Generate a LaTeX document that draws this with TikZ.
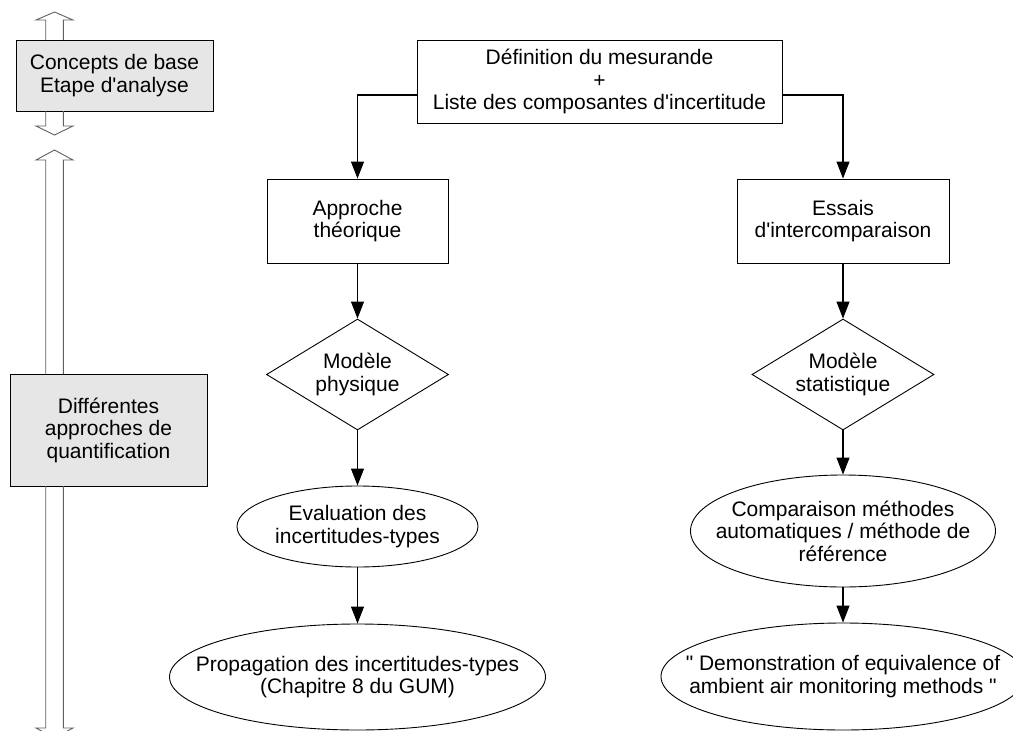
\documentclass[tikz,border=0pt]{standalone}
\usepackage{fontspec}
\setmainfont{Liberation Sans}[Ligatures=TeXOff]
\usetikzlibrary{shapes.geometric,arrows.meta}
\definecolor{boxgray}{HTML}{E6E6E6}
\definecolor{outlinegray}{HTML}{606060}
\begin{document}
\begin{tikzpicture}[x=1pt,y=-1pt,
  every node/.style={font=\fontsize{21}{22.5}\selectfont, align=center},
  graybox/.style={draw=black, line width=0.9pt, fill=boxgray, rectangle, inner sep=0pt},
  plainbox/.style={draw=black, line width=0.9pt, rectangle, inner sep=0pt},
  diam/.style={draw=black, line width=0.9pt, diamond, aspect=1.64, inner sep=0pt},
  ell/.style={draw=black, line width=0.9pt, ellipse, inner sep=0pt},
  arr/.style={line width=1.1pt, -{Triangle[length=17pt,width=13pt]}},
  blockarrow/.style={draw=outlinegray, line width=0.9pt, line join=miter}
]
\useasboundingbox (0,0) rectangle (1013,731);

% left gray boxes
\node[graybox, minimum width=197, minimum height=71] (conc) at (114.5,75.5) {Concepts de base\\Etape d'analyse};
\node[graybox, minimum width=197, minimum height=112] (diff) at (108.5,430) {Différentes\\approches de\\quantification};

% block arrows
\draw[blockarrow] (45.7,40) -- (45.7,20) -- (36,20) -- (54.5,12) -- (73,20) -- (63.3,20) -- (63.3,40);
\draw[blockarrow] (45.7,111) -- (45.7,126) -- (36,126) -- (54.5,135) -- (73,126) -- (63.3,126) -- (63.3,111);
\draw[blockarrow] (45.7,374) -- (45.7,160) -- (36,160) -- (54.5,150) -- (73,160) -- (63.3,160) -- (63.3,374);
\draw[blockarrow] (45.7,486) -- (45.7,728) -- (36,728) -- (54.5,738) -- (73,728) -- (63.3,728) -- (63.3,486);

% flowchart
\node[plainbox, minimum width=365, minimum height=83] (def) at (599.5,81.5) {Définition du mesurande\\+\\Liste des composantes d'incertitude};
\node[plainbox, minimum width=181, minimum height=84] (app) at (357.5,221) {Approche\\théorique};
\node[plainbox, minimum width=212, minimum height=84] (ess) at (843,221) {Essais\\d'intercomparaison};
\node[diam, minimum width=182, minimum height=111] (mph) at (357.5,374.5) {Modèle\\physique};
\node[diam, minimum width=182, minimum height=111] (mst) at (843,374.5) {Modèle\\statistique};
\node[ell, minimum width=241, minimum height=81, label={[align=center]center:{Evaluation des\\incertitudes-types}}] (eval) at (357.5,526.5) {};
\node[ell, minimum width=305, minimum height=112, label={[align=center]center:{Comparaison méthodes\\automatiques / méthode de\\référence}}] (comp) at (843,531) {};
\node[ell, minimum width=376, minimum height=106, label={[align=center]center:{Propagation des incertitudes-types\\(Chapitre 8 du GUM)}}] (prop) at (357.5,677) {};
\node[ell, minimum width=364, minimum height=107, label={[align=center]center:{" Demonstration of equivalence of\\ambient air monitoring methods "}}] (demo) at (843,676.5) {};

\draw[arr] ([yshift=-13.5pt]def.west) -| (app.north);
\draw[arr] ([yshift=-13.5pt]def.east) -| (ess.north);
\draw[arr] (app.south) -- (mph.north);
\draw[arr] (mph.south) -- (eval.north);
\draw[arr] (eval.south) -- (prop.north);
\draw[arr] (ess.south) -- (mst.north);
\draw[arr] (mst.south) -- (comp.north);
\draw[arr] (comp.south) -- (demo.north);
\end{tikzpicture}
\end{document}
